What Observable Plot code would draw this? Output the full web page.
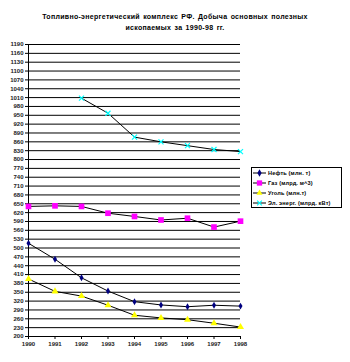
<!DOCTYPE html>
<html><head><meta charset="utf-8">
<script src="https://cdn.jsdelivr.net/npm/d3@7"></script>
<script src="https://cdn.jsdelivr.net/npm/@observablehq/plot@0.6"></script>
<style>
body{margin:0;background:#fff;font-family:"Liberation Sans",Arial,sans-serif;}
#wrap{position:relative;width:350px;height:362px;}
#title{position:absolute;left:0;top:11px;width:350px;text-align:center;font-size:7px;font-weight:bold;line-height:11px;color:#000;letter-spacing:0.3px;word-spacing:1px;}
#legend{position:absolute;left:251px;top:167px;width:91px;height:41px;border:1px solid #000;background:#fff;box-sizing:border-box;}
.li{position:absolute;left:0;height:10px;font-size:5.6px;font-weight:bold;line-height:10px;letter-spacing:0.15px;}
.li svg{position:absolute;left:1px;top:0;}
.li span{position:absolute;left:16px;top:0;white-space:nowrap;}
</style></head><body>
<div id="wrap">
<div id="title">Топливно-энергетический комплекс РФ. Добыча основных полезных<br>ископаемых за 1990-98 гг.</div>
<div id="chart"></div>
<div id="legend"></div>
</div>
<script>
const years = [1990, 1991, 1992, 1993, 1994, 1995, 1996, 1997, 1998];
const oil = [516, 462, 399, 354, 318, 307, 301, 306, 303];
const gas = [641, 643, 641, 618, 607, 595, 601, 571, 591];
const coal = [395, 353, 337, 306, 272, 263, 257, 245, 232];
const elec = [null, null, 1008, 957, 876, 860, 847, 834, 827];
const seriesNames = ["Нефть (млн. т)", "Газ (млрд. м^3)", "Уголь (млн.т)", "Эл. энерг. (млрд. кВт)"];
const yTicks = d3.range(200, 1191, 30);

const colors = ["#000080", "#FF00FF", "#FFFF00", "#00FFFF"];
const symbols = ["diamond", "square", "triangle", "times"];
const allSeries = [oil, gas, coal, elec];
const rows = [];
allSeries.forEach((vals, i) => vals.forEach((v, j) => { if (v != null) rows.push({s: i, year: years[j], v}); }));

const marks = [
  Plot.ruleY(yTicks, {y: d => d, x1: 1990, x2: 1998, stroke: "#000", strokeWidth: 1}),
  Plot.ruleX([1990], {y1: 200, y2: 1190, stroke: "#000"}),
  Plot.axisY({ticks: yTicks, label: null, tickSize: 3, tickPadding: 2, tickFormat: d => String(d), fontSize: 6, fontWeight: "bold", fill: "#222"}),
  Plot.axisX({ticks: years, label: null, tickSize: 3, tickPadding: 2, tickFormat: d => String(d), fontSize: 6, fontWeight: "bold", fill: "#222"}),
];
allSeries.forEach((vals, i) => {
  const d = rows.filter(r => r.s === i);
  marks.push(Plot.line(d, {x: "year", y: "v", stroke: "#000", strokeWidth: 1}));
  if (symbols[i] === "times") {
    marks.push(Plot.dot(d, {x: "year", y: "v", symbol: "times", r: 2.4, stroke: colors[i], strokeWidth: 1.2}));
  } else {
    marks.push(Plot.dot(d, {x: "year", y: "v", symbol: symbols[i], r: symbols[i] === "square" ? 3.2 : (symbols[i] === "diamond" ? 2.1 : 2.6), fill: colors[i], stroke: "none"}));
  }
});

const chart = Plot.plot({
  width: 350, height: 362,
  marginLeft: 28, marginRight: 110, marginTop: 44, marginBottom: 26,
  style: {fontFamily: "'Liberation Sans', Arial, sans-serif", background: "transparent"},
  x: {domain: [1990, 1998], axis: null, label: null},
  y: {domain: [200, 1190], axis: null, label: null},
  marks
});
document.getElementById("chart").appendChild(chart);

// legend
const leg = document.getElementById("legend");
seriesNames.forEach((name, i) => {
  const div = document.createElement("div");
  div.className = "li";
  div.style.top = (i * 10) + "px";
  const svg = d3.create("svg").attr("width", 14).attr("height", 10);
  svg.append("line").attr("x1", 0).attr("x2", 13).attr("y1", 5).attr("y2", 5).attr("stroke", "#000");
  const sym = d3.symbol().type({diamond: d3.symbolDiamond, square: d3.symbolSquare, triangle: d3.symbolTriangle, times: d3.symbolTimes}[symbols[i]]).size(symbols[i] === "square" ? 28 : 16);
  const p = svg.append("path").attr("d", sym()).attr("transform", "translate(6.5,5)");
  if (symbols[i] === "times") p.attr("fill", "none").attr("stroke", colors[i]).attr("stroke-width", 1.2);
  else p.attr("fill", colors[i]);
  div.appendChild(svg.node());
  const sp = document.createElement("span");
  sp.textContent = name;
  div.appendChild(sp);
  leg.appendChild(div);
});
</script>
</body></html>
